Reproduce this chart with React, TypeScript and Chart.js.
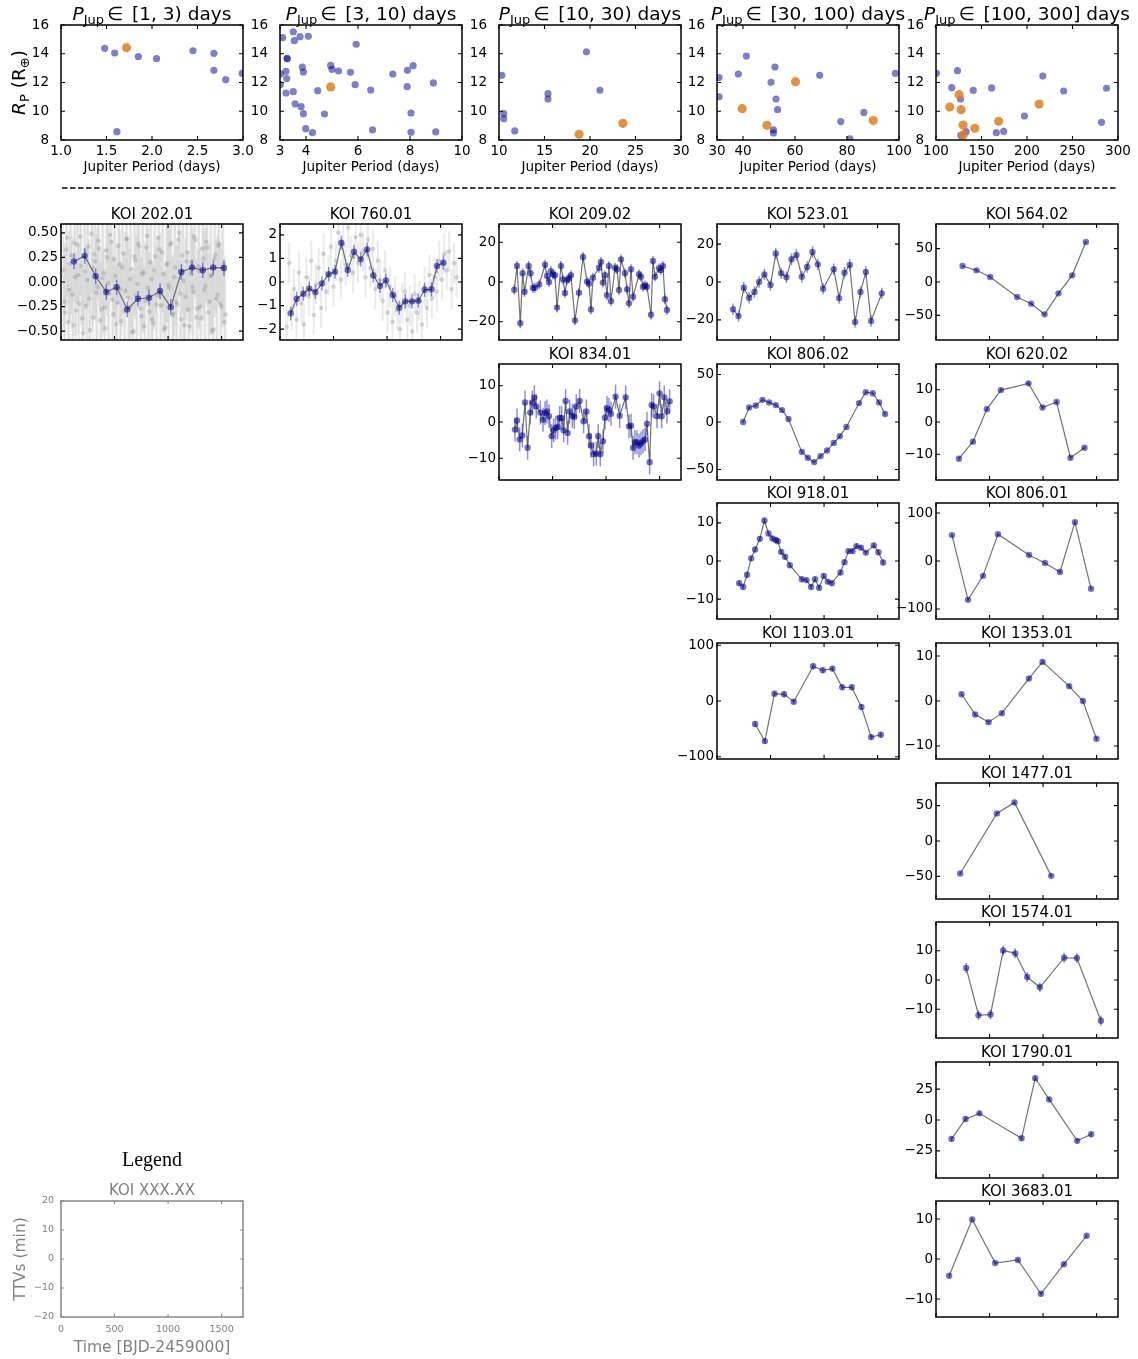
import React, { useEffect, useRef } from "react";
import { Chart, registerables } from "chart.js";

Chart.register(...registerables);

const FONT = "'DejaVu Sans', 'Liberation Sans', sans-serif";
const SERIF = "'Liberation Serif', 'DejaVu Serif', serif";
Chart.defaults.font.family = FONT;
Chart.defaults.color = "#000";

// ================= Top row: giant radius vs Jupiter period =================
const binTitles = ["[1, 3) days", "[3, 10) days", "[10, 30) days", "[30, 100) days", "[100, 300] days"];
const binMin = [1, 3, 10, 30, 100];
const binMax = [3, 10, 30, 100, 300];
const bin1Ticks = [1, 1.5, 2, 2.5, 3];
const bin2Ticks = [3, 4, 6, 8, 10];
const bin3Ticks = [10, 15, 20, 25, 30];
const bin4Ticks = [30, 40, 60, 80, 100];
const bin5Ticks = [100, 150, 200, 250, 300];
const radiusTicks = [8, 10, 12, 14, 16];

const bin1BlueP = [1.48, 1.59, 1.615, 1.85, 2.05, 2.45, 2.68, 2.68, 2.81, 2.99];
const bin1BlueR = [14.38, 14.05, 8.58, 13.8, 13.66, 14.21, 14.03, 12.85, 12.2, 12.64];
const bin1OrangeP = [1.72];
const bin1OrangeR = [14.42];

const bin2BlueP = [3.1, 3.51, 3.55, 3.77, 4.09, 5.93, 3.27, 3.28, 3.86, 3.9, 3.23, 3.26, 3.02, 3.01, 3.23, 3.51, 3.58, 3.81, 3.9, 3.99, 4.25, 4.45, 4.71, 4.95, 5.0, 5.25, 5.71, 5.89, 6.49, 6.56, 7.34, 7.9, 8.12, 7.89, 8.04, 8.04, 8.9, 8.99];
const bin2BlueR = [15.12, 15.53, 14.91, 15.19, 15.21, 14.66, 13.68, 13.65, 13.08, 12.73, 12.78, 12.27, 12.6, 11.85, 11.27, 11.36, 10.52, 10.32, 9.83, 8.79, 8.51, 11.43, 9.81, 13.19, 12.92, 12.8, 12.71, 11.85, 11.48, 8.7, 12.59, 12.85, 13.17, 11.71, 9.88, 8.54, 11.97, 8.56];
const bin2OrangeP = [4.95];
const bin2OrangeR = [11.69];

const bin3BlueP = [10.3, 10.52, 10.52, 11.73, 15.38, 15.38, 19.61, 21.09];
const bin3BlueR = [12.5, 9.83, 9.48, 8.63, 11.22, 10.85, 14.14, 11.46];
const bin3OrangeP = [18.8, 23.62];
const bin3OrangeR = [8.4, 9.16];

const bin4BlueP = [30.8, 30.8, 38.2, 41.3, 52.3, 50.8, 52.7, 53.3, 51.7, 51.7, 69.5, 77.6, 86.5, 81.1, 98.6];
const bin4BlueR = [12.34, 11.01, 12.59, 13.84, 13.08, 12.01, 10.85, 10.11, 8.7, 8.49, 12.5, 9.28, 9.92, 8.08, 12.64];
const bin4OrangeP = [39.7, 49.2, 60.2, 90.1];
const bin4OrangeR = [10.18, 9.02, 12.06, 9.35];

const bin5BlueP = [100.5, 123.6, 117.3, 126.9, 127.3, 133.1, 140.9, 161.1, 166.3, 174.4, 197.2, 217.4, 240.3, 281.9, 287.4];
const bin5BlueR = [12.64, 12.82, 11.64, 10.85, 8.32, 8.58, 11.45, 11.62, 8.51, 8.6, 9.67, 12.45, 11.41, 9.23, 11.6];
const bin5OrangeP = [115.1, 125.4, 127.6, 129.8, 129.8, 142.7, 168.9, 213.4];
const bin5OrangeR = [10.29, 11.15, 10.11, 9.04, 8.35, 8.81, 9.3, 10.5];

const binTicks = [bin1Ticks, bin2Ticks, bin3Ticks, bin4Ticks, bin5Ticks];
const blueP = [bin1BlueP, bin2BlueP, bin3BlueP, bin4BlueP, bin5BlueP];
const blueR = [bin1BlueR, bin2BlueR, bin3BlueR, bin4BlueR, bin5BlueR];
const orangeP = [bin1OrangeP, bin2OrangeP, bin3OrangeP, bin4OrangeP, bin5OrangeP];
const orangeR = [bin1OrangeR, bin2OrangeR, bin3OrangeR, bin4OrangeR, bin5OrangeR];

// ================= TTV panels =================
const timeTicks = [0, 500, 1000, 1500];
const TIME_MAX = 1700;

const koi202T = [121, 221, 324, 423, 520, 619, 719, 822, 925, 1025, 1124, 1224, 1324, 1422, 1522];
const koi202V = [0.209, 0.266, 0.058, -0.102, -0.054, -0.279, -0.17, -0.16, -0.092, -0.256, 0.102, 0.147, 0.12, 0.147, 0.143];
const koi202GrayT = [22, 31, 40, 49, 58, 67, 77, 86, 96, 105, 115, 124, 133, 142, 152, 161, 170, 180, 189, 198, 208, 217, 227, 236, 245, 254, 264, 273, 283, 292, 301, 310, 320, 329, 339, 348, 357, 366, 376, 385, 395, 404, 414, 423, 432, 441, 451, 460, 470, 479, 488, 497, 507, 516, 526, 535, 544, 553, 563, 572, 582, 591, 601, 610, 619, 628, 638, 647, 657, 666, 675, 684, 694, 703, 713, 722, 731, 740, 750, 759, 769, 778, 788, 797, 806, 815, 825, 834, 844, 853, 862, 871, 881, 890, 900, 909, 918, 927, 937, 946, 956, 965, 975, 984, 993, 1002, 1012, 1021, 1031, 1040, 1049, 1058, 1068, 1077, 1087, 1096, 1105, 1114, 1124, 1133, 1143, 1152, 1162, 1171, 1180, 1189, 1199, 1208, 1218, 1227, 1236, 1245, 1255, 1264, 1274, 1283, 1292, 1301, 1311, 1320, 1330, 1339, 1349, 1358, 1367, 1376, 1386, 1395, 1405, 1414, 1423, 1432, 1442, 1451, 1461, 1470, 1479, 1488, 1498, 1507, 1517, 1526, 1536];
const koi202GrayV = [0.12, -0.2, -0.31, 0.33, 0.45, -0.41, -0.08, 0.19, 0.27, -0.13, -0.44, 0.4, 0.05, -0.29, 0.38, 0.07, -0.22, 0.46, 0.16, -0.37, -0.52, 0.11, 0.31, -0.24, 0.02, 0.36, -0.17, -0.49, 0.49, 0.14, -0.36, 0.28, 0.21, -0.11, -0.05, 0.42, 0.34, -0.39, -0.28, 0.04, 0.09, -0.26, -0.47, 0.32, 0.25, -0.01, -0.12, 0.48, 0.41, -0.18, -0.33, 0.23, 0.06, -0.43, -0.21, 0.37, 0.18, -0.07, -0.4, 0.15, 0.29, -0.3, -0.09, 0.44, 0.44, -0.16, -0.26, 0.03, 0.13, -0.51, -0.5, 0.26, 0.22, -0.14, -0.02, 0.39, 0.36, -0.27, -0.35, 0.08, 0.1, -0.45, -0.19, 0.35, 0.47, -0.06, -0.3, 0.2, 0.03, -0.38, -0.42, 0.12, 0.26, -0.23, -0.14, 0.45, 0.33, -0.1, -0.24, 0.3, 0.08, -0.48, -0.46, 0.17, 0.19, -0.03, -0.06, 0.38, 0.4, -0.34, -0.32, 0.05, 0.15, -0.2, -0.23, 0.43, 0.5, -0.12, -0.38, 0.27, 0.01, -0.44, -0.15, 0.21, 0.3, -0.28, -0.45, 0.09, 0.2, -0.05, -0.1, 0.46, 0.43, -0.36, -0.27, 0.16, 0.11, -0.25, -0.37, 0.34, 0.24, -0.08, -0.04, 0.41, 0.35, -0.31, -0.2, 0.06, 0.07, -0.5, -0.48, 0.24, 0.28, -0.17, -0.13, 0.37, 0.39, -0.22, -0.25, 0.14, 0.18, -0.41, -0.33];

const koi760T = [100, 156, 218, 274, 330, 392, 455, 514, 573, 632, 691, 754, 813, 872, 934, 990, 1053, 1114, 1171, 1233, 1292, 1351, 1414, 1467, 1526];
const koi760V = [-1.33, -0.71, -0.5, -0.28, -0.43, -0.06, 0.33, 0.44, 1.67, 0.51, 1.28, 0.96, 1.38, 0.28, -0.17, 0.07, -0.55, -1.09, -0.82, -0.82, -0.79, -0.33, -0.31, 0.68, 0.82];
const koi760GrayT = [62, 85, 108, 131, 154, 177, 200, 223, 246, 269, 292, 315, 338, 361, 384, 407, 430, 453, 476, 499, 522, 545, 568, 591, 614, 637, 660, 683, 706, 729, 752, 775, 798, 821, 844, 867, 890, 913, 936, 959, 982, 1005, 1028, 1051, 1074, 1097, 1120, 1143, 1166, 1189, 1212, 1235, 1258, 1281, 1304, 1327, 1350, 1373, 1396, 1419, 1442, 1465, 1488, 1511, 1534, 1557, 1580, 1603, 1626, 1649];
const koi760GrayV = [-1.9, 0.8, -1.2, -0.3, -1.6, 0.4, -0.9, -1.8, 0.2, -0.6, 0.9, -1.4, -0.1, 0.6, -1.1, 1.2, -0.4, 0.3, 1.5, -0.2, 0.9, 2.1, 0.1, 1.6, 0.7, 2.3, 1.1, 0.4, 1.9, 0.8, 2.0, 1.3, 0.2, 1.8, 0.6, 1.4, -0.3, 0.9, 0.1, -0.8, 0.5, -1.3, -0.2, -1.7, -0.6, -1.2, -2.0, -0.9, -0.4, -1.6, -1.0, -2.1, -0.5, -1.3, -0.8, -1.8, -0.2, -1.1, 0.3, -0.7, 0.2, -0.4, 0.9, 0.1, 1.2, 0.5, 1.3, -0.3, 0.8, 0.2];

const koi209T = [143, 168, 199, 221, 239, 277, 295, 317, 336, 376, 430, 448, 467, 486, 504, 523, 542, 579, 598, 616, 635, 654, 672, 710, 747, 785, 822, 841, 859, 878, 934, 953, 971, 990, 1009, 1027, 1046, 1084, 1102, 1121, 1140, 1177, 1196, 1214, 1233, 1252, 1308, 1326, 1345, 1364, 1382, 1420, 1438, 1457, 1494, 1513, 1532, 1550, 1569];
const koi209V = [-3.9, 8.1, -20.8, 4.4, -4.9, 8.1, 4.4, -3.0, -2.9, -1.2, 8.7, 3.0, 0, 5.5, 3.7, 3.4, -12.9, 8.1, 1.3, -5.5, 1.0, 1.8, 3.4, -19.3, -5.4, 12.6, 0.2, -0.7, -13.8, 2.2, 7.2, 10.1, -0.3, 3.4, -6.7, 8.1, -9.6, 7.2, 6.4, -4.0, 11.4, 4.4, -3.7, -10.7, 6.4, -7.4, 3.9, 2.7, -2.4, -1.7, -2.4, -16.5, 10.6, 2.7, 6.9, 6.0, 8.1, -8.7, -14.1];

const koi523T = [150, 201, 250, 300, 350, 393, 443, 500, 549, 599, 649, 696, 742, 792, 842, 892, 942, 991, 1091, 1141, 1191, 1240, 1290, 1340, 1390, 1439, 1539];
const koi523V = [-14.4, -18.0, -3.0, -8.3, -5.3, 0, 4.0, -1.6, 15.0, 4.6, 2.5, 12.0, 14.3, 2.8, 7.9, 15.8, 9.3, -3.5, 6.7, -8.5, 4.9, 9.0, -21.1, -5.3, 5.3, -20.6, -6.0];

const koi564T = [248, 378, 506, 758, 889, 1014, 1144, 1272, 1400];
const koi564V = [24, 17.5, 7.5, -22.5, -32.5, -48.5, -17, 10, 60];

const koi620T = [214, 345, 475, 606, 864, 995, 1126, 1256, 1387];
const koi620V = [-11.4, -6.1, 4.0, 9.9, 12.0, 4.5, 6.2, -11.1, -8.0];

const koi834T = [149, 168, 193, 218, 243, 267, 292, 311, 330, 348, 386, 411, 430, 448, 467, 492, 510, 529, 548, 566, 585, 604, 622, 641, 660, 685, 703, 722, 753, 790, 816, 841, 859, 884, 909, 927, 946, 971, 990, 1009, 1027, 1046, 1089, 1127, 1183, 1214, 1233, 1252, 1270, 1289, 1308, 1326, 1345, 1364, 1382, 1407, 1426, 1444, 1476, 1500, 1519, 1544, 1569, 1594];
const koi834V = [-2.1, 0.4, -4.8, -3.7, 5.4, -7.1, 2.6, 5.4, 6.8, 4.3, 2.6, 0.6, 2.5, 2.9, 1.6, -3.9, -2.3, -1.6, -1.4, 1.1, 1.1, -2.3, 5.8, -3.0, 2.9, 1.7, 1.4, 4.3, 5.8, 0.2, 2.9, -3.9, -6.5, -8.9, -8.7, -3.9, -8.9, -5.3, 1.2, 3.8, 3.4, 2.3, 7.0, 1.7, 6.8, -1.2, -1.0, -7.1, -5.6, -5.6, -6.5, -5.9, -5.3, -4.8, -0.5, -11.1, 4.7, 4.3, 1.6, 7.9, 1.6, 6.8, 2.9, 5.7];

const koi806bT = [244, 300, 362, 425, 487, 549, 608, 668, 792, 848, 907, 967, 1028, 1091, 1147, 1209, 1327, 1390, 1455, 1514, 1570];
const koi806bV = [0, 15.3, 17.4, 23.3, 20.6, 17.8, 12.5, 3.1, -31.4, -37.6, -42.2, -35.9, -30.0, -22.0, -15.0, -5.2, 19.9, 31.4, 30.3, 20.6, 8.4];

const koi918T = [207, 244, 281, 319, 356, 400, 443, 481, 518, 549, 568, 599, 636, 680, 792, 836, 879, 916, 954, 997, 1035, 1072, 1153, 1191, 1228, 1266, 1303, 1346, 1390, 1465, 1508, 1552];
const koi918V = [-5.8, -6.8, -3.6, 0.7, 3.0, 5.8, 10.6, 7.2, 5.9, 5.5, 5.2, 2.4, 1.1, -1.1, -4.8, -5.0, -6.8, -4.8, -7.0, -3.9, -5.4, -5.8, -3.0, -0.3, 2.6, 2.6, 3.9, 3.5, 2.2, 4.1, 2.3, -0.4];

const koi806aT = [149, 299, 439, 579, 869, 1018, 1158, 1298, 1448];
const koi806aV = [54, -81, -31, 56, 12.5, -4, -23, 81, -58];

const koi1103T = [356, 447, 537, 627, 717, 898, 988, 1078, 1169, 1259, 1349, 1440, 1530];
const koi1103V = [-41.3, -71.9, 13.2, 12.0, -1.2, 62.3, 55.1, 58.1, 24.6, 24.6, -10.8, -64.7, -60.5];

const koi1353T = [238, 366, 491, 615, 868, 995, 1244, 1372, 1499];
const koi1353V = [1.5, -3.0, -4.7, -2.7, 5.0, 8.7, 3.3, 0, -8.4];

const koi1477T = [226, 569, 733, 1076];
const koi1477V = [-46, 39, 54.5, -49.3];

const koi1574T = [282, 397, 509, 628, 740, 852, 970, 1197, 1316, 1540];
const koi1574V = [4.1, -12.0, -11.8, 10.1, 9.1, 1.0, -2.5, 7.6, 7.5, -13.9];

const koi1790T = [145, 276, 406, 799, 927, 1057, 1319, 1450];
const koi1790V = [-15.3, 0.8, 5.4, -14.8, 33.9, 16.7, -16.9, -11.6];

const koi3683T = [123, 338, 553, 765, 980, 1195, 1407];
const koi3683V = [-4.2, 9.9, -1.0, -0.25, -8.7, -1.3, 5.8];

const ticksHalf = [-0.5, -0.25, 0, 0.25, 0.5];
const ticks2 = [-2, -1, 0, 1, 2];
const ticks10 = [-10, 0, 10];
const ticks20 = [-20, 0, 20];
const ticks25 = [-25, 0, 25];
const ticks50 = [-50, 0, 50];
const ticks100 = [-100, 0, 100];
const legendYTicks = [-20, -10, 0, 10, 20];

type TtvPanel = {
  name: string; col: number; row: number; t: number[]; v: number[]; err: number;
  lim: number; ticks: number[]; dec: number; grayT?: number[]; grayV?: number[]; grayErr?: number; grayAlpha?: number;
};

const ttvPanels: TtvPanel[] = [
  { name: "KOI 202.01", col: 0, row: 0, t: koi202T, v: koi202V, err: 0.08, lim: 0.59, ticks: ticksHalf, dec: 2, grayT: koi202GrayT, grayV: koi202GrayV, grayErr: 0.6, grayAlpha: 0.2 },
  { name: "KOI 760.01", col: 1, row: 0, t: koi760T, v: koi760V, err: 0.3, lim: 2.46, ticks: ticks2, dec: 0, grayT: koi760GrayT, grayV: koi760GrayV, grayErr: 0.85, grayAlpha: 0.2 },
  { name: "KOI 209.02", col: 2, row: 0, t: koi209T, v: koi209V, err: 2.5, lim: 29.2, ticks: ticks20, dec: 0 },
  { name: "KOI 834.01", col: 2, row: 1, t: koi834T, v: koi834V, err: 3.3, lim: 16, ticks: ticks10, dec: 0 },
  { name: "KOI 523.01", col: 3, row: 0, t: koi523T, v: koi523V, err: 3, lim: 30.6, ticks: ticks20, dec: 0 },
  { name: "KOI 806.02", col: 3, row: 1, t: koi806bT, v: koi806bV, err: 1.5, lim: 61, ticks: ticks50, dec: 0 },
  { name: "KOI 918.01", col: 3, row: 2, t: koi918T, v: koi918V, err: 0.7, lim: 15.2, ticks: ticks10, dec: 0 },
  { name: "KOI 1103.01", col: 3, row: 3, t: koi1103T, v: koi1103V, err: 5, lim: 104, ticks: ticks100, dec: 0 },
  { name: "KOI 564.02", col: 4, row: 0, t: koi564T, v: koi564V, err: 2, lim: 87, ticks: ticks50, dec: 0 },
  { name: "KOI 620.02", col: 4, row: 1, t: koi620T, v: koi620V, err: 0.6, lim: 18, ticks: ticks10, dec: 0 },
  { name: "KOI 806.01", col: 4, row: 2, t: koi806aT, v: koi806aV, err: 3, lim: 121, ticks: ticks100, dec: 0 },
  { name: "KOI 1353.01", col: 4, row: 3, t: koi1353T, v: koi1353V, err: 0.4, lim: 12.9, ticks: ticks10, dec: 0 },
  { name: "KOI 1477.01", col: 4, row: 4, t: koi1477T, v: koi1477V, err: 2, lim: 82, ticks: ticks50, dec: 0 },
  { name: "KOI 1574.01", col: 4, row: 5, t: koi1574T, v: koi1574V, err: 1.7, lim: 19.8, ticks: ticks10, dec: 0 },
  { name: "KOI 1790.01", col: 4, row: 6, t: koi1790T, v: koi1790V, err: 2, lim: 47, ticks: ticks25, dec: 0 },
  { name: "KOI 3683.01", col: 4, row: 7, t: koi3683T, v: koi3683V, err: 0.4, lim: 14.5, ticks: ticks10, dec: 0 },
];

// ================= Layout / style =================
const COL_L = [61, 280, 499, 717, 936];
const ROW_T = [224, 364, 503, 643, 783, 922, 1062, 1201];
const PW = 182;
const PH = 116;
const TOP_T = 25;
const TOP_H = 115;

const BLUE = "rgba(0,0,139,0.5)";
const ORANGE = "rgba(220,128,36,0.85)";
const POINT_BLUE = "rgba(0,0,139,0.55)";
const ERR_BLUE = "rgba(30,30,180,0.5)";
const LINE_GRAY = "rgba(90,90,90,0.85)";
const GRAY_PT = "rgba(130,130,130,0.3)";
const LEG_GRAY = "#808080";

type Seg = { t: string; f: string; dy?: number; gap?: number };

function drawSegs(ctx: CanvasRenderingContext2D, segs: Seg[], cx: number, y: number, color: string) {
  const widths = segs.map((s) => {
    ctx.font = s.f;
    return ctx.measureText(s.t).width + (s.gap || 0);
  });
  const total = widths.reduce((a, b) => a + b, 0);
  let x = cx - total / 2;
  ctx.fillStyle = color;
  ctx.textAlign = "left";
  ctx.textBaseline = "alphabetic";
  segs.forEach((s, i) => {
    ctx.font = s.f;
    ctx.fillText(s.t, x + (s.gap || 0), y + (s.dy || 0));
    x += widths[i];
  });
}

function fmtNum(v: number, dec: number) {
  const s = Math.abs(v).toFixed(dec);
  return (v < 0 ? "\u2212" : "") + s;
}

function framePlugin(color: string, lw: number, tickLen: number) {
  return {
    id: "frame",
    afterDatasetsDraw(chart: any) {
      const { ctx, chartArea: a, scales } = chart;
      const xs = scales.x;
      const ys = scales.y;
      ctx.save();
      ctx.strokeStyle = color;
      ctx.lineWidth = 1.1;
      ctx.beginPath();
      for (const tk of xs.ticks) {
        const p = xs.getPixelForValue(tk.value);
        ctx.moveTo(p, a.bottom);
        ctx.lineTo(p, a.bottom - tickLen);
        ctx.moveTo(p, a.top);
        ctx.lineTo(p, a.top + tickLen);
      }
      for (const tk of ys.ticks) {
        const p = ys.getPixelForValue(tk.value);
        ctx.moveTo(a.left, p);
        ctx.lineTo(a.left + tickLen, p);
        ctx.moveTo(a.right, p);
        ctx.lineTo(a.right - tickLen, p);
      }
      ctx.stroke();
      ctx.lineWidth = lw;
      ctx.strokeRect(a.left, a.top, a.right - a.left, a.bottom - a.top);
      ctx.restore();
    },
  };
}

type Layer = { t: number[]; v: number[]; e: number; color: string; width: number };

function errorBarPlugin(layers: Layer[]) {
  return {
    id: "errbars",
    beforeDatasetsDraw(chart: any) {
      const { ctx, chartArea: a, scales } = chart;
      const xs = scales.x;
      const ys = scales.y;
      ctx.save();
      ctx.beginPath();
      ctx.rect(a.left, a.top, a.right - a.left, a.bottom - a.top);
      ctx.clip();
      for (const L of layers) {
        ctx.strokeStyle = L.color;
        ctx.lineWidth = L.width;
        L.t.forEach((t, i) => {
          const v = L.v[i];
          if (v === undefined) return;
          const px = xs.getPixelForValue(t);
          ctx.beginPath();
          ctx.moveTo(px, ys.getPixelForValue(v - L.e));
          ctx.lineTo(px, ys.getPixelForValue(v + L.e));
          ctx.stroke();
        });
      }
      ctx.restore();
    },
  };
}

function textPlugin(draw: (ctx: CanvasRenderingContext2D, a: any) => void) {
  return {
    id: "texts",
    afterDraw(chart: any) {
      const { ctx, chartArea } = chart;
      ctx.save();
      draw(ctx, chartArea);
      ctx.restore();
    },
  };
}

type ScaleArgs = {
  min: number; max: number; ticks: number[]; fmt: (v: number) => string; show: boolean;
  size: number; color: string; pad: number; fit: number; horizontal: boolean; title?: any;
};

function scaleOpts(o: ScaleArgs) {
  return {
    type: "linear",
    min: o.min,
    max: o.max,
    grid: { display: false, drawTicks: false },
    border: { display: false },
    afterBuildTicks: (s: any) => {
      s.ticks = o.ticks.map((v) => ({ value: v }));
    },
    afterFit: (s: any) => {
      if (o.horizontal) s.height = o.fit;
      else s.width = o.fit;
    },
    ticks: {
      display: o.show,
      autoSkip: false,
      maxRotation: 0,
      minRotation: 0,
      padding: o.pad,
      color: o.color,
      font: { family: FONT, size: o.size },
      callback: (v: any) => o.fmt(Number(v)),
    },
    title: o.title || { display: false },
  };
}

function baseOptions(padT: number, padR: number) {
  return {
    responsive: false,
    animation: false,
    devicePixelRatio: 1,
    events: [],
    layout: { padding: { left: 0, top: padT, right: padR, bottom: 0 } },
    plugins: { legend: { display: false }, tooltip: { enabled: false }, title: { display: false } },
  };
}

type Box = { x: number; y: number; w: number; h: number };

// ---------- top row ----------
const TOP_PAD = { t: 25, r: 24, b: 37 };
function topPadL(i: number) {
  return i === 0 ? COL_L[0] : 48;
}
function topBox(i: number): Box {
  const pl = topPadL(i);
  return { x: COL_L[i] - pl, y: TOP_T - TOP_PAD.t, w: pl + PW + TOP_PAD.r, h: TOP_PAD.t + TOP_H + TOP_PAD.b };
}
function topConfig(i: number) {
  const pl = topPadL(i);
  const dec = i === 0 ? 1 : 0;
  const plugins: any[] = [
    framePlugin("#000", 1.5, 4),
    textPlugin((ctx, a) => {
      const cx = (a.left + a.right) / 2;
      drawSegs(
        ctx,
        [
          { t: "P", f: `italic 18.5px ${FONT}` },
          { t: "Jup", f: `13px ${FONT}`, dy: 4.5 },
          { t: "\u2208", f: `18.5px ${FONT}`, gap: 3 },
          { t: " " + binTitles[i], f: `18.5px ${FONT}`, gap: 3 },
        ],
        cx,
        a.top - 5.5,
        "#000"
      );
      if (i === 0) {
        ctx.translate(a.left - 36, (a.top + a.bottom) / 2);
        ctx.rotate(-Math.PI / 2);
        drawSegs(
          ctx,
          [
            { t: "R", f: `italic 18.5px ${FONT}` },
            { t: "P", f: `13px ${FONT}`, dy: 4 },
            { t: " (R", f: `18.5px ${FONT}` },
            { t: "\u2295", f: `13px ${FONT}`, dy: 4 },
            { t: ")", f: `18.5px ${FONT}` },
          ],
          0,
          0,
          "#000"
        );
      }
    }),
  ];
  return {
    type: "scatter",
    data: {
      datasets: [
        {
          data: orangeP[i].map((p, k) => ({ x: p, y: orangeR[i][k] })),
          backgroundColor: ORANGE,
          pointBackgroundColor: ORANGE,
          pointRadius: 4.6,
          pointBorderWidth: 0,
        },
        {
          data: blueP[i].map((p, k) => ({ x: p, y: blueR[i][k] })),
          backgroundColor: BLUE,
          pointBackgroundColor: BLUE,
          pointRadius: 3.6,
          pointBorderWidth: 0,
        },
      ],
    },
    options: {
      ...baseOptions(TOP_PAD.t, TOP_PAD.r),
      scales: {
        x: scaleOpts({
          min: binMin[i], max: binMax[i], ticks: binTicks[i], fmt: (v) => fmtNum(v, dec), show: true,
          size: 13.5, color: "#000", pad: 3.5, fit: TOP_PAD.b, horizontal: true,
          title: { display: true, text: "Jupiter Period (days)", color: "#000", font: { family: FONT, size: 13.5 }, padding: { top: 0, bottom: 1 } },
        }),
        y: scaleOpts({
          min: 8, max: 16, ticks: radiusTicks, fmt: (v) => fmtNum(v, 0), show: true,
          size: 13.5, color: "#000", pad: 12, fit: pl, horizontal: false,
        }),
      },
    },
    plugins,
  };
}

// ---------- TTV panels ----------
const TTV_PAD = { l: 56, t: 24, r: 6, b: 14 };
function ttvBox(p: TtvPanel): Box {
  return { x: COL_L[p.col] - TTV_PAD.l, y: ROW_T[p.row] - TTV_PAD.t, w: TTV_PAD.l + PW + TTV_PAD.r, h: TTV_PAD.t + PH + TTV_PAD.b };
}
function ttvConfig(p: TtvPanel) {
  const datasets: any[] = [
    {
      data: p.t.map((t, i) => ({ x: t, y: p.v[i] })),
      showLine: true,
      borderColor: LINE_GRAY,
      borderWidth: 1.2,
      pointRadius: 3.2,
      pointBackgroundColor: POINT_BLUE,
      pointBorderWidth: 0,
    },
  ];
  const layers: Layer[] = [];
  if (p.grayT && p.grayV) {
    const gv = p.grayV;
    datasets.push({
      data: p.grayT.map((t, i) => ({ x: t, y: gv[i] })).filter((d) => d.y !== undefined),
      showLine: false,
      pointRadius: 2.3,
      pointBackgroundColor: GRAY_PT,
      pointBorderWidth: 0,
    });
    layers.push({ t: p.grayT, v: p.grayV, e: p.grayErr || 0, color: `rgba(150,150,150,${p.grayAlpha || 0.2})`, width: 2 });
  }
  layers.push({ t: p.t, v: p.v, e: p.err, color: ERR_BLUE, width: 1.5 });
  return {
    type: "scatter",
    data: { datasets },
    options: {
      ...baseOptions(TTV_PAD.t, TTV_PAD.r),
      scales: {
        x: scaleOpts({
          min: 0, max: TIME_MAX, ticks: timeTicks, fmt: (v) => String(v), show: false,
          size: 13.5, color: "#000", pad: 3, fit: TTV_PAD.b, horizontal: true,
        }),
        y: scaleOpts({
          min: -p.lim, max: p.lim, ticks: p.ticks, fmt: (v) => fmtNum(v, p.dec), show: true,
          size: 13.5, color: "#000", pad: 3, fit: TTV_PAD.l, horizontal: false,
        }),
      },
    },
    plugins: [
      errorBarPlugin(layers),
      framePlugin("#000", 1.5, 4),
      textPlugin((ctx, a) => drawSegs(ctx, [{ t: p.name, f: `15px ${FONT}` }], (a.left + a.right) / 2, a.top - 5, "#000")),
    ],
  };
}

// ---------- legend panel ----------
const LEG_PAD = { l: 61, t: 60, r: 20, b: 42 };
const legendBox: Box = { x: COL_L[0] - LEG_PAD.l, y: ROW_T[7] - LEG_PAD.t, w: LEG_PAD.l + PW + LEG_PAD.r, h: LEG_PAD.t + PH + LEG_PAD.b };
function legendConfig() {
  return {
    type: "scatter",
    data: { datasets: [{ data: [], pointRadius: 0 }] },
    options: {
      ...baseOptions(LEG_PAD.t, LEG_PAD.r),
      scales: {
        x: scaleOpts({
          min: 0, max: TIME_MAX, ticks: timeTicks, fmt: (v) => String(v), show: true,
          size: 9.5, color: LEG_GRAY, pad: 6.5, fit: LEG_PAD.b, horizontal: true,
          title: { display: true, text: "Time [BJD-2459000]", color: LEG_GRAY, font: { family: FONT, size: 15.5 }, padding: { top: 0, bottom: 1.7 } },
        }),
        y: scaleOpts({
          min: -20, max: 20, ticks: legendYTicks, fmt: (v) => fmtNum(v, 0), show: true,
          size: 9.5, color: LEG_GRAY, pad: 7, fit: LEG_PAD.l, horizontal: false,
          title: { display: true, text: "TTVs (min)", color: LEG_GRAY, font: { family: FONT, size: 15.5 }, padding: { top: 11.4, bottom: 0 } },
        }),
      },
    },
    plugins: [
      framePlugin("#888888", 1.5, 3),
      textPlugin((ctx, a) => {
        const cx = (a.left + a.right) / 2;
        drawSegs(ctx, [{ t: "KOI XXX.XX", f: `15px ${FONT}` }], cx, a.top - 6, LEG_GRAY);
        drawSegs(ctx, [{ t: "Legend", f: `20px ${SERIF}` }], cx, a.top - 35, "#000");
      }),
    ],
  };
}

function ChartCanvas({ box, make }: { box: Box; make: () => any }) {
  const ref = useRef<HTMLCanvasElement | null>(null);
  useEffect(() => {
    if (!ref.current) return;
    const chart = new Chart(ref.current, make());
    return () => chart.destroy();
  }, []);
  return (
    <canvas
      ref={ref}
      width={box.w}
      height={box.h}
      style={{ position: "absolute", left: box.x, top: box.y, width: box.w, height: box.h }}
    />
  );
}

export default function App() {
  return (
    <div style={{ position: "absolute", left: 0, top: 0, width: 1138, height: 1359, background: "#fff", overflow: "hidden" }}>
      <svg width={1138} height={200} style={{ position: "absolute", left: 0, top: 0 }}>
        <line x1={62} y1={188} x2={1118} y2={188} stroke="#000" strokeWidth={1.3} strokeDasharray="5.5 2.5" />
      </svg>
      {binTitles.map((_, i) => (
        <ChartCanvas key={"top" + i} box={topBox(i)} make={() => topConfig(i)} />
      ))}
      {ttvPanels.map((p) => (
        <ChartCanvas key={p.name} box={ttvBox(p)} make={() => ttvConfig(p)} />
      ))}
      <ChartCanvas key="legend" box={legendBox} make={legendConfig} />
    </div>
  );
}
